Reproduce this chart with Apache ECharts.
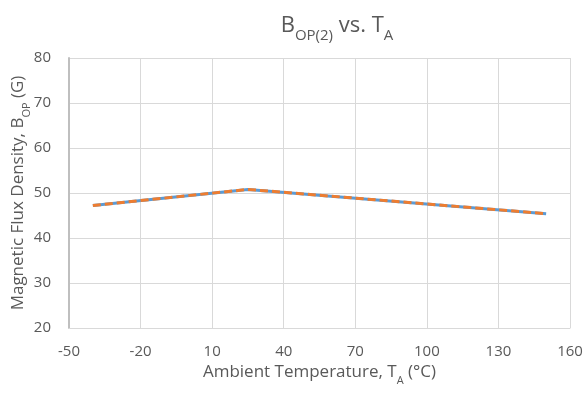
<!DOCTYPE html>
<html>
<head>
<meta charset="utf-8">
<script src="https://cdn.jsdelivr.net/npm/echarts@6/dist/echarts.min.js"></script>
<style>
  html, body { margin: 0; padding: 0; background: #fff; }
  #chart { width: 587px; height: 396px; }
</style>
</head>
<body>
<div id="chart"></div>
<script>
var temps = [-40, 25, 150];
var bop = [47.2, 50.8, 45.4];
var xTicks = [-50, 160, 30];
var yTicks = [20, 80, 10];

var pts = temps.map(function (t, i) { return [t, bop[i]]; });
var txt = '#595959';
var font = 'Open Sans';

var chartDom = document.getElementById('chart');
var myChart = echarts.init(chartDom);
var option = {
  animation: false,
  textStyle: { fontFamily: font },
  title: {
    text: '{b|B}{s|OP(2)}{b| vs. T}{s|A}',
    left: 332,
    textAlign: 'center',
    top: 3,
    textStyle: {
      rich: {
        b: { fontSize: 22, fontWeight: 'normal', color: txt, fontFamily: font, lineHeight: 29, verticalAlign: 'bottom' },
        s: { fontSize: 15, fontWeight: 'normal', color: txt, fontFamily: font, verticalAlign: 'bottom', padding: [0, 0, -6, 0] }
      }
    }
  },
  grid: { left: 69, right: 17, top: 58, bottom: 68, containLabel: false, outerBoundsMode: 'none' },
  xAxis: {
    type: 'value',
    min: xTicks[0], max: xTicks[1], interval: xTicks[2],
    name: '{a|Ambient Temperature, T}{s|A}{a| (°C)}',
    nameLocation: 'middle',
    nameGap: 35,
    nameTextStyle: {
      rich: {
        a: { fontSize: 17, color: txt, fontFamily: font, verticalAlign: 'bottom' },
        s: { fontSize: 11, color: txt, fontFamily: font, verticalAlign: 'bottom', padding: [0, 0, -5, 0] }
      }
    },
    axisLine: { show: true, lineStyle: { color: '#d9d9d9', width: 1 } },
    axisTick: { show: false },
    axisLabel: { color: txt, fontSize: 15, margin: 16 },
    splitLine: { show: true, lineStyle: { color: '#d9d9d9', width: 1 } }
  },
  yAxis: {
    type: 'value',
    min: yTicks[0], max: yTicks[1], interval: yTicks[2],
    name: '{a|Magnetic Flux Density, B}{s|OP}{a| (G)}',
    nameLocation: 'middle',
    nameGap: 42,
    nameMoveOverlap: false,
    nameTextStyle: {
      rich: {
        a: { fontSize: 17, color: txt, fontFamily: font, verticalAlign: 'bottom' },
        s: { fontSize: 11, color: txt, fontFamily: font, verticalAlign: 'bottom', padding: [0, 0, -5, 0] }
      }
    },
    axisLine: { show: true, onZero: false, lineStyle: { color: '#bfbfbf', width: 2 } },
    axisTick: { show: false },
    axisLabel: { color: txt, fontSize: 15, margin: 18 },
    splitLine: { show: true, lineStyle: { color: '#d9d9d9', width: 1 } }
  },
  series: [
    {
      type: 'line',
      data: pts,
      symbol: 'none',
      lineStyle: { color: '#5B9BD5', width: 3 },
      z: 2
    },
    {
      type: 'line',
      data: pts,
      symbol: 'none',
      lineStyle: { color: '#ED7D31', width: 3, type: [8, 4] },
      z: 3
    }
  ]
};
option && myChart.setOption(option);
</script>
</body>
</html>
